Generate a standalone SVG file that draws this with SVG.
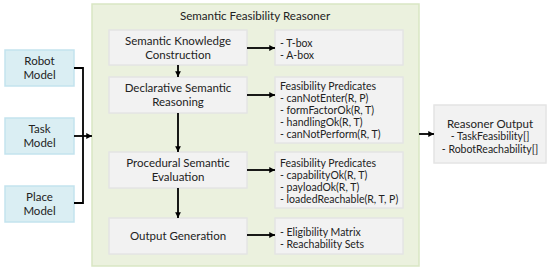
<svg xmlns="http://www.w3.org/2000/svg" width="550" height="270" viewBox="0 0 550 270">
<defs>
<marker id="ah" viewBox="0 0 10 10" refX="10" refY="5" markerWidth="3.2" markerHeight="3.2" orient="auto" markerUnits="strokeWidth">
<path d="M0,0 L10,5 L0,10 z" fill="#000"/>
</marker>
</defs>
<style>
text{font-family:Lato,"Noto Sans","Liberation Sans",sans-serif;fill:#222;}
.c{text-anchor:middle;font-size:11.5px;}
.s{font-size:10.5px;}
.t{text-anchor:middle;font-size:11.6px;}
.in{fill:#daeef3;stroke:#c3e3ee;stroke-width:1.5;}
.gr{fill:#f2f2f2;stroke:#e4e4e4;stroke-width:1.5;}
.cont{fill:#ebf1de;stroke:#d9e6c3;stroke-width:1.5;}
.ln{fill:none;stroke:#000;stroke-width:1.8;}
.ar{fill:none;stroke:#000;stroke-width:1.8;marker-end:url(#ah);}
</style>
<rect fill="#fff" width="550" height="270"/>
<g id="reasoner">
<rect class="cont" x="92" y="4" width="327" height="262"/>
<text class="t" x="255" y="20">Semantic Feasibility Reasoner</text>
</g>
<g id="robot-model">
<rect class="in" x="5" y="50" width="69" height="36"/>
<text class="c" x="39.5" y="65">Robot</text>
<text class="c" x="39.5" y="79">Model</text>
</g>
<g id="task-model">
<rect class="in" x="5" y="118" width="69" height="36"/>
<text class="c" x="39.5" y="133">Task</text>
<text class="c" x="39.5" y="147">Model</text>
</g>
<g id="place-model">
<rect class="in" x="5" y="186" width="69" height="36"/>
<text class="c" x="39.5" y="201">Place</text>
<text class="c" x="39.5" y="215">Model</text>
</g>
<g id="skc">
<rect class="gr" x="109" y="30" width="138" height="35"/>
<text class="c" x="178" y="45">Semantic Knowledge</text>
<text class="c" x="178" y="59">Construction</text>
</g>
<g id="dsr">
<rect class="gr" x="109" y="77" width="138" height="36"/>
<text class="c" x="178" y="92">Declarative Semantic</text>
<text class="c" x="178" y="106">Reasoning</text>
</g>
<g id="pse">
<rect class="gr" x="109" y="152" width="138" height="36"/>
<text class="c" x="178" y="167">Procedural Semantic</text>
<text class="c" x="178" y="181">Evaluation</text>
</g>
<g id="og">
<rect class="gr" x="109" y="218" width="138" height="36"/>
<text class="c" x="178" y="240">Output Generation</text>
</g>
<g id="boxes">
<rect class="gr" x="275" y="30" width="128" height="35"/>
<text class="s" x="280" y="47">- T-box</text>
<text class="s" x="280" y="59">- A-box</text>
</g>
<g id="fp1">
<rect class="gr" x="275" y="77" width="128" height="66"/>
<text class="s" x="280" y="90">Feasibility Predicates</text>
<text class="s" x="280" y="102">- canNotEnter(R, P)</text>
<text class="s" x="280" y="114">- formFactorOk(R, T)</text>
<text class="s" x="280" y="126">- handlingOk(R, T)</text>
<text class="s" x="280" y="138">- canNotPerform(R, T)</text>
</g>
<g id="fp2">
<rect class="gr" x="275" y="152" width="128" height="56"/>
<text class="s" x="280" y="167">Feasibility Predicates</text>
<text class="s" x="280" y="179">- capabilityOk(R, T)</text>
<text class="s" x="280" y="191">- payloadOk(R, T)</text>
<text class="s" x="280" y="203">- loadedReachable(R, T, P)</text>
</g>
<g id="sets">
<rect class="gr" x="275" y="218" width="128" height="36"/>
<text class="s" x="280" y="236">- Eligibility Matrix</text>
<text class="s" x="280" y="248">- Reachability Sets</text>
</g>
<g id="output">
<rect class="gr" x="434" y="105" width="112" height="58"/>
<text class="c" x="490" y="128">Reasoner Output</text>
<text class="s" x="490" y="140" text-anchor="middle">- TaskFeasibility[]</text>
<text class="s" x="490" y="153" text-anchor="middle">- RobotReachability[]</text>
</g>
<g id="connectors">
<path class="ln" d="M74,68 H83 V203 H74"/>
<path class="ar" d="M74,136 H92"/>
<path class="ar" d="M178,65 V77"/>
<path class="ar" d="M178,113 V152"/>
<path class="ar" d="M178,188 V218"/>
<path class="ar" d="M247,48 H275"/>
<path class="ar" d="M247,95 H275"/>
<path class="ar" d="M247,170 H275"/>
<path class="ar" d="M247,235 H275"/>
<path class="ar" d="M419,134 H434"/>
</g>
</svg>
